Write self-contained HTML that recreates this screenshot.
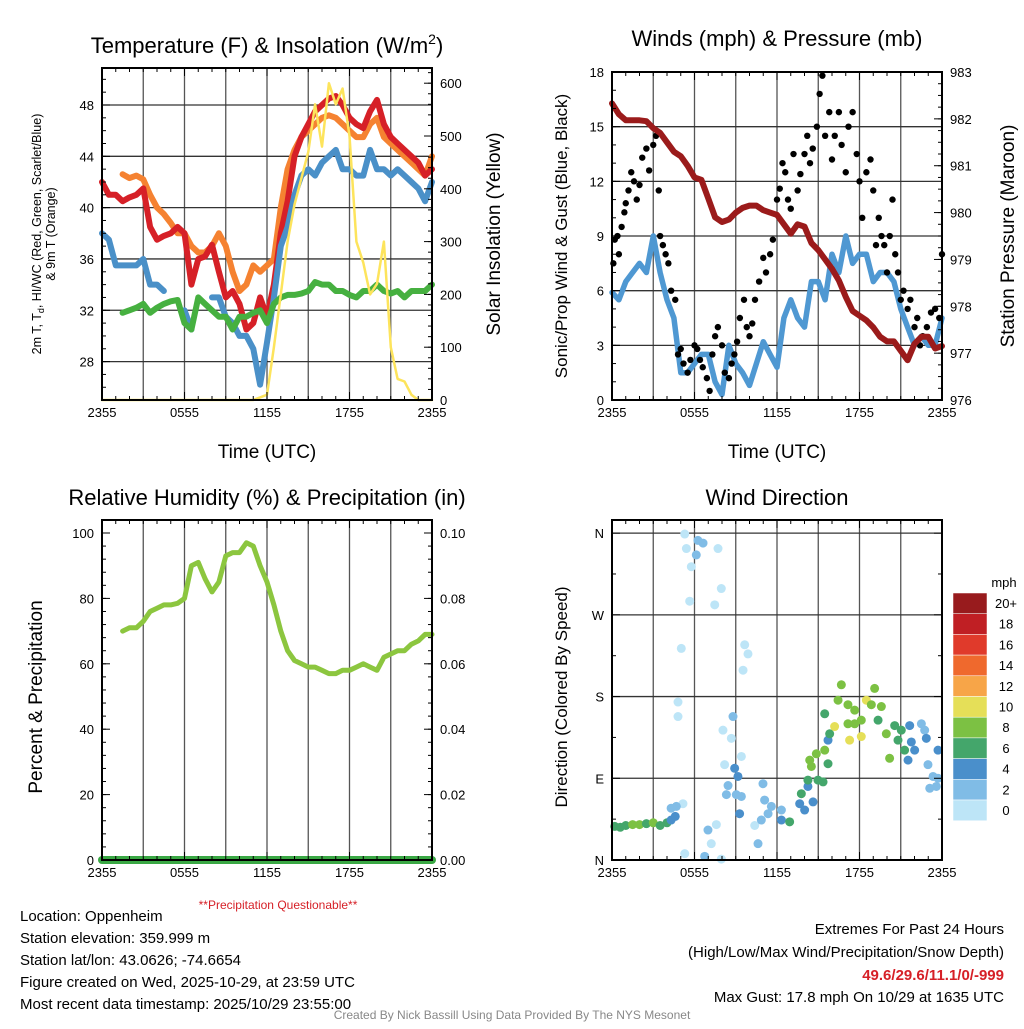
<!DOCTYPE html>
<html><head><meta charset="utf-8"><style>
body{margin:0;background:#fff;font-family:"Liberation Sans",sans-serif}
svg text{font-family:"Liberation Sans",sans-serif}
</style></head><body>
<svg id="s" width="1024" height="1024" viewBox="0 0 1024 1024" xmlns="http://www.w3.org/2000/svg"></svg>
<script>
const hours=[];for(let i=0;i<=48;i++)hours.push(i/2);
const tempRed=[42,41,41,40.5,40.8,41,41.5,38.5,37.5,37.8,38,38.5,38,34,36,36.2,37.1,35,33,33.5,32.5,30.5,31,33,31.5,34,38,40.5,44,45.5,46.5,47.5,48,48.5,48.7,48,47,46.5,46.2,47.5,48.4,46.5,45.5,45,44.5,44,43.5,42.5,43];
const temp9m=[null,null,null,42.6,42.3,42.5,42.2,41,40,39.5,38.8,38,38,37,36.5,36.5,37,38,37,35,33.5,34,35.5,35,35.5,36,40,43,44.5,45.5,46,46.5,47,47.2,47,46.5,46,45.5,45.5,46.5,47,45.5,45,44.5,44,43.5,43,42.5,44];
const tempBlue=[38,37.5,35.5,35.5,35.5,35.5,36,34,34,33.5,null,null,32,30.5,null,null,33,33,31.5,31,30,30,29,26.2,29.5,33,37,38.5,41,42.5,43,42.5,43.5,44,44.5,43,43,42.5,42.5,44.5,43,43,42.5,43,42.5,42,41.5,40.5,42];
const tempGreen=[null,null,null,31.8,32,32.2,32.5,31.8,32.2,32.5,32.7,32.8,31,30.5,33,32.5,32,31.5,31.5,30.5,31.5,31.5,31.8,32,31,32.5,33,33.2,33.2,33.3,33.5,34.2,34,34,33.5,33.5,33.2,33,33.5,33.5,34,33.5,33.3,33.5,33,33.5,33.5,33.5,34];
const solar=[0,0,0,0,0,0,0,0,0,0,0,0,0,0,0,0,0,0,0,0,0,0,0,5,10,100,200,300,370,420,470,560,480,600,560,590,500,300,260,200,220,300,100,40,35,10,0,0,0];
const windSpd=[5.9,5.5,6.5,7,7.5,7,9,7,5.5,4.5,1.5,1.5,2,2.5,2.5,1,0.3,3,2,1.5,0.8,2,3.2,2.5,1.8,4.5,5.5,4.5,4,6.5,6.5,5.5,8,7,9,7.5,8,8,6.5,7,7,6.5,5,4,3,3.5,3,3,4.5];
const pressure=[982.33,982.1,981.97,981.97,981.97,981.95,981.8,981.7,981.5,981.3,981.2,981.0,980.75,980.7,980.3,979.9,979.8,979.85,980.0,980.1,980.15,980.15,980.05,980.0,979.95,979.75,979.55,979.75,979.7,979.35,979.2,979.0,978.8,978.55,978.2,977.9,977.8,977.7,977.55,977.35,977.25,977.25,977.05,976.85,977.2,977.35,977.35,977.1,977.15];
const gustHours=[0.1,0.2,0.4,0.5,0.7,0.9,1,1.2,1.4,1.6,1.8,2,2.2,2.5,2.7,3,3.2,3.4,3.5,3.7,3.9,4.1,4.3,4.6,4.8,5,5.2,5.5,5.7,6,6.2,6.4,6.6,6.9,7.1,7.3,7.5,7.7,8,8.2,8.5,8.7,8.9,9.1,9.3,9.6,9.8,10,10.2,10.4,10.7,11,11.2,11.5,11.7,12,12.2,12.4,12.6,12.8,13,13.2,13.5,13.7,14,14.2,14.4,14.6,14.9,15.1,15.3,15.5,15.8,16,16.2,16.5,16.7,17,17.2,17.5,17.8,18,18.2,18.5,18.8,19,19.2,19.4,19.6,19.8,20,20.2,20.4,20.6,20.8,21,21.2,21.5,21.7,22,22.2,22.4,22.6,22.9,23.2,23.5,23.8,24];
const gustVals=[7.5,8.8,9,8,9.5,10.3,10.8,11.5,12.5,12,11,11.8,13.3,13.8,12.6,14,14.5,11.5,9,8.5,8,7.5,6,5.5,2.5,2.8,2,1.5,2.2,3,2.8,2.2,1.8,1.2,0.5,2.5,3.5,4,3,1.5,1.2,2,2.5,3.2,4.5,5.5,4,3.5,4.2,5.5,6.5,7.8,7,8,8.8,11,11.6,13,12.5,11,10.5,13.5,11.5,12.4,13.5,14.5,13,13.8,15,16.8,17.8,14.5,15.8,13.2,14.5,15.8,14,12.5,15,15.8,13.5,12,10,12.5,13.2,11.5,8.5,10,9,8.5,7,9,11,8,7,5.5,6,5,5.5,4,4.5,3,3.5,4,4.8,5,4.5,8];
const rh=[null,null,null,70,71,71,73,76,77,78,78,78.5,80,90,91,86,82,85,93,94,94,97,96,90,85,78,70,64,61,60,59,59,58,57,57,58,58,59,60,59,58,62,63,64,64,66,67,69,69];
const precip=hours.map(()=>0);
const dirHours=[0.2,0.6,1,1.5,2,2.5,3,3.5,4,4.3,4.6,4.3,5.29,5.41,5.77,6.25,6.62,6.13,5.65,5.04,4.8,4.8,7.71,7.95,7.47,5.29,5.16,4.68,6.98,7.22,6.74,7.95,7.59,10.38,10.62,10.86,9.65,9.89,9.53,8.8,8.07,8.68,9.41,8.19,8.92,9.16,8.44,8.32,9.04,9.41,9.28,10.98,11.1,11.59,12.32,11.35,12.32,12.92,13.65,14.25,14.62,13.77,14.01,14.25,14.98,15.35,14.38,14.5,14.86,15.47,15.71,15.83,15.47,15.71,16.68,16.44,17.16,17.65,18.5,19.1,18.86,19.59,19.35,18.13,17.65,17.16,16.19,17.28,18.13,19.95,20.56,21.04,20.8,20.19,21.28,21.65,22.5,22.74,22.86,21.77,22.01,21.53,22.98,23.71,23.35,23.71,23.11,23.59];
const dirVals=[37,36,38,39,39,40,41,38,41,44,48,57,359,343,323,352,349,336,285,233,174,158,343,299,281,7,62,59,33,18,4,1,39,38,18,44,237,227,209,158,143,134,114,105,101,92,82,72,72,70,51,84,66,59,55,51,44,42,62,81,64,73,55,88,88,86,110,103,117,121,132,139,161,106,193,176,171,165,176,189,171,169,154,154,150,150,147,132,136,139,148,143,132,112,121,148,150,143,134,130,121,110,105,121,92,90,79,81];
const dirSpeeds=[6,6,7,8,8,7,8,7,6,5,4,3,1,0,0,2,2,2,0,0,0,0,0,0,1,0,0,3,2,1,3,1,0,0,2,2,0,0,0,3,0,0,0,0,4,4,3,3,3,2,4,2,2,2,3,2,4,6,4,4,4,6,4,6,6,6,8,8,8,8,4,6,6,6,8,8,8,8,10,8,8,8,6,8,8,8,10,10,10,8,6,6,6,8,6,4,2,2,4,4,4,4,2,4,2,2,2,2];
const speedColors=['#bde5f7','#80bce6','#4a8fcb','#44a66b','#7cc143','#e5df58','#f7a548','#ef692d','#e03a2b','#c01f24','#981b1d'];
const speedLabels=['0','2','4','6','8','10','12','14','16','18','20+'];

const S=document.getElementById('s');const NS='http://www.w3.org/2000/svg';
function el(t,a,txt){const e=document.createElementNS(NS,t);for(const k in a)e.setAttribute(k,a[k]);if(txt!==undefined)e.textContent=txt;S.appendChild(e);return e;}
function txt(x,y,s,size,anchor,extra){const e=el('text',Object.assign({x:x,y:y,'font-size':size,'text-anchor':anchor||'middle',fill:'#000'},extra||{}),s);return e;}
function line(pts,color,w,name){let d='',pen=false;pts.forEach(p=>{if(p==null){pen=false;return;}d+=(pen?'L':'M')+p[0].toFixed(1)+' '+p[1].toFixed(1);pen=true;});const e=el('path',{d:d,fill:'none',stroke:color,'stroke-width':w,'stroke-linejoin':'round','stroke-linecap':'round'});return e;}

function panel(x0,y0,x1,y1,hgrid){
  for(let k=1;k<8;k++){const x=x0+k*(x1-x0)/8;const g=el('line',{x1:x,x2:x,y1:y0,y2:y1,stroke:'#555','stroke-width':1.3});}
  hgrid.forEach(y=>{const g=el('line',{x1:x0,x2:x1,y1:y,y2:y,stroke:'#333','stroke-width':1.3});});
}
function frame(x0,y0,x1,y1){const r=el('rect',{x:x0,y:y0,width:x1-x0,height:y1-y0,fill:'none',stroke:'#000','stroke-width':2});
  for(let k=0;k<=24;k++){const x=x0+k*(x1-x0)/24;const l=(k%6==0)?8:4;el('line',{x1:x,x2:x,y1:y1,y2:y1-l,stroke:'#000','stroke-width':1});el('line',{x1:x,x2:x,y1:y0,y2:y0+l,stroke:'#000','stroke-width':1});}
  ['2355','0555','1155','1755','2355'].forEach((s,i)=>{const t=txt(x0+i*(x1-x0)/4,y1+17,s,13);});
}
function yticks(x,ys,labels,side,minor){ys.forEach((y,i)=>{el('line',{x1:x,x2:x+(side=='l'?8:-8),y1:y,y2:y,stroke:'#000','stroke-width':1});const t=txt(side=='l'?x-8:x+8,y+5,labels[i],13,side=='l'?'end':'start');});
  (minor||[]).forEach(y=>el('line',{x1:x,x2:x+(side=='l'?4:-4),y1:y,y2:y,stroke:'#000','stroke-width':1}));}

// ---------- Panel 1
const P1={x0:102,x1:432,y0:68,y1:400};
const hx1=h=>P1.x0+h*(P1.x1-P1.x0)/24;
const ty=T=>105+(48-T)*12.83;
const sy=v=>400-v*0.528;
panel(P1.x0,P1.y0,P1.x1,P1.y1,[48,44,40,36,32,28].map(ty));
line(hours.map((h,i)=>temp9m[i]==null?null:[hx1(h),ty(temp9m[i])]),'#f58231',6,'orange-9m-temp-line');
line(hours.map((h,i)=>tempRed[i]==null?null:[hx1(h),ty(tempRed[i])]),'#d62027',6,'red-2m-temp-line');
line(hours.map((h,i)=>tempBlue[i]==null?null:[hx1(h),ty(tempBlue[i])]),'#4a90c8',6,'blue-heat-index-line');
line(hours.map((h,i)=>tempGreen[i]==null?null:[hx1(h),ty(tempGreen[i])]),'#46b040',6,'green-dewpoint-line');
line(hours.map((h,i)=>[hx1(h),sy(solar[i])]),'#fde45c',2.5,'yellow-solar-line');
frame(P1.x0,P1.y0,P1.x1,P1.y1);
{const m=[];for(let T=26;T<=50;T++)m.push(ty(T));yticks(P1.x0,[48,44,40,36,32,28].map(ty),['48','44','40','36','32','28'],'l',m.filter(y=>y>P1.y0&&y<P1.y1));
const m2=[];for(let v=0;v<=620;v+=20)m2.push(sy(v));yticks(P1.x1,[0,100,200,300,400,500,600].map(sy),['0','100','200','300','400','500','600'],'r',m2.filter(y=>y>P1.y0&&y<=P1.y1));}
{const t=el('text',{x:267,y:53,'font-size':22,'text-anchor':'middle'});t.innerHTML='Temperature (F) &amp; Insolation (W/m<tspan dy="-9" font-size="14">2</tspan><tspan dy="9">)</tspan>';}
txt(267,458,'Time (UTC)',19);
{const t=el('text',{transform:'translate(41,234) rotate(-90)','font-size':12.5,'text-anchor':'middle'});t.innerHTML='2m T, T<tspan dy="3" font-size="9">d</tspan><tspan dy="-3">, HI/WC (Red, Green, Scarlet/Blue)</tspan>';
const t2=txt(0,0,'& 9m T (Orange)',12.5,'middle',{transform:'translate(55,234) rotate(-90)'});}
{const t=txt(0,0,'Solar Insolation (Yellow)',19,'middle',{transform:'translate(500,234) rotate(-90)'});}

// ---------- Panel 2
const P2={x0:612,x1:942,y0:72,y1:400};
const hx2=h=>P2.x0+h*(P2.x1-P2.x0)/24;
const wy=w=>400-w*18.22;
const py=p=>72+(983-p)*46.86;
panel(P2.x0,P2.y0,P2.x1,P2.y1,[3,6,9,12,15].map(wy));
line(hours.map((h,i)=>[hx2(h),wy(windSpd[i])]),'#4f98d2',5.5,'blue-wind-speed-line');
gustHours.forEach((h,i)=>{const c=el('circle',{cx:hx2(h),cy:wy(gustVals[i]),r:3.2,fill:'#000'});});
line(hours.map((h,i)=>[hx2(h),py(pressure[i])]),'#9b1b1b',6,'maroon-pressure-line');
frame(P2.x0,P2.y0,P2.x1,P2.y1);
{const m=[];for(let w=0;w<=18;w++)m.push(wy(w));yticks(P2.x0,[0,3,6,9,12,15,18].map(wy),['0','3','6','9','12','15','18'],'l',m);
const m2=[];for(let p=976;p<=983;p+=0.25)m2.push(py(p));yticks(P2.x1,[976,977,978,979,980,981,982,983].map(py),['976','977','978','979','980','981','982','983'],'r',m2);}
txt(777,46,'Winds (mph) & Pressure (mb)',22);
txt(777,458,'Time (UTC)',19);
{const t=txt(0,0,'Sonic/Prop Wind & Gust (Blue, Black)',17,'middle',{transform:'translate(567,236) rotate(-90)'});
const t2=txt(0,0,'Station Pressure (Maroon)',19,'middle',{transform:'translate(1014,236) rotate(-90)'});}

// ---------- Panel 3
const P3={x0:102,x1:432,y0:520,y1:860};
const hx3=h=>P3.x0+h*(P3.x1-P3.x0)/24;
const ry=v=>860-v*3.27;
const ppy=v=>860-v*3270;
panel(P3.x0,P3.y0,P3.x1,P3.y1,[]);
line(hours.map((h,i)=>rh[i]==null?null:[hx3(h),ry(rh[i])]),'#8cc63f',5,'rh-line');
line(hours.map((h,i)=>[hx3(h),ppy(precip[i])]),'#3aa844',8,'precip-line');
frame(P3.x0,P3.y0,P3.x1,P3.y1);
{const m=[];for(let v=0;v<=104;v+=4)m.push(ry(v));yticks(P3.x0,[0,20,40,60,80,100].map(ry),['0','20','40','60','80','100'],'l',m.filter(y=>y>=P3.y0));
yticks(P3.x1,[0,.02,.04,.06,.08,.1].map(ppy),['0.00','0.02','0.04','0.06','0.08','0.10'],'r',m.filter(y=>y>=P3.y0));}
txt(267,505,'Relative Humidity (%) & Precipitation (in)',22);
{const t=txt(0,0,'Percent & Precipitation',19,'middle',{transform:'translate(42,697) rotate(-90)'});}

// ---------- Panel 4
const P4={x0:612,x1:942,y0:520,y1:860};
const hx4=h=>P4.x0+h*(P4.x1-P4.x0)/24;
const dy=d=>860-d*0.908;
panel(P4.x0,P4.y0,P4.x1,P4.y1,[90,180,270,360].map(dy));
dirHours.forEach((h,i)=>{const ci=Math.max(0,Math.min(10,Math.floor(dirSpeeds[i]/2)));const c=el('circle',{cx:hx4(h),cy:dy(dirVals[i]),r:4.5,fill:speedColors[ci]});});
frame(P4.x0,P4.y0,P4.x1,P4.y1);
yticks(P4.x0,[0,90,180,270,360].map(dy),['N','E','S','W','N'],'l',[45,135,225,315].map(dy));
yticks(P4.x1,[0,90,180,270,360].map(dy),['','','','',''],'r',[45,135,225,315].map(dy));
txt(777,505,'Wind Direction',22);
{const t=txt(0,0,'Direction (Colored By Speed)',17,'middle',{transform:'translate(567,697) rotate(-90)'});}
// colorbar
{const top=593,bh=20.7;txt(1004,587,'mph',13);
for(let k=0;k<11;k++){const idx=10-k;const r=el('rect',{x:953,y:top+k*bh,width:34,height:bh,fill:speedColors[idx],stroke:'#fff','stroke-width':0.5});
const t=txt(1006,top+k*bh+15,speedLabels[idx],13);}}

// ---------- text
[['Location: Oppenheim',921],['Station elevation: 359.999 m',943],['Station lat/lon: 43.0626; -74.6654',965],['Figure created on Wed, 2025-10-29, at 23:59 UTC',987],['Most recent data timestamp: 2025/10/29 23:55:00',1009]].forEach(a=>{const t=txt(20,a[1],a[0],15,'start');});
txt(278,909,'**Precipitation Questionable**',12,'middle',{fill:'#d62027'});
txt(1004,934,'Extremes For Past 24 Hours',15,'end');
txt(1004,957,'(High/Low/Max Wind/Precipitation/Snow Depth)',15,'end');
txt(1004,980,'49.6/29.6/11.1/0/-999',15,'end',{fill:'#d62027','font-weight':'bold'});
txt(1004,1002,'Max Gust: 17.8 mph On 10/29 at 1635 UTC',15,'end');
txt(512,1019,'Created By Nick Bassill Using Data Provided By The NYS Mesonet',12,'middle',{fill:'#888'});
</script>
</body></html>
